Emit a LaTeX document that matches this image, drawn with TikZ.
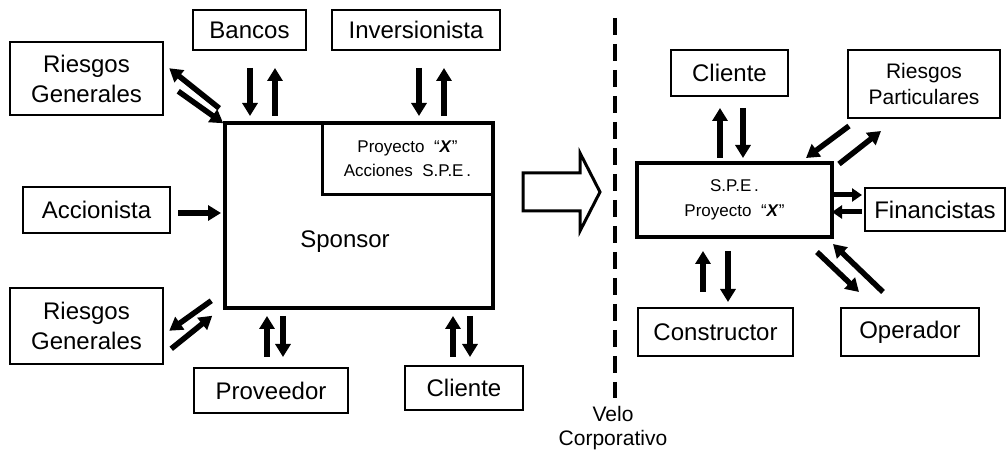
\documentclass[tikz,border=0pt]{standalone}
\usepackage{fontspec}
\setmainfont{Liberation Sans}
\usetikzlibrary{arrows.meta,calc}
\begin{document}
\begin{tikzpicture}[x=1pt,y=-1pt,
  box/.style={draw,line width=2pt,inner sep=0pt,align=center,font=\fontsize{24}{30}\selectfont},
  smalltxt/.style={font=\fontsize{17}{24}\selectfont,align=center,inner sep=0pt},
  arr/.style={line width=5.5pt,-{Triangle[width=15pt,length=13pt]}},
  sarr/.style={line width=5pt,-{Triangle[width=13pt,length=10pt]}},
  ]
\useasboundingbox (0,0) rectangle (1007,454);
% left side
\node[box,minimum width=113pt,minimum height=40pt] (bancos) at (249.5,30) {Bancos};
\node[box,minimum width=168pt,minimum height=40pt] (inv) at (416,30) {Inversionista};
\node[box,line width=2.5pt,minimum width=153pt,minimum height=73pt] (rg1) at (86.5,78.5) {Riesgos\\Generales};
\node[box,minimum width=147pt,minimum height=46pt] (acc) at (96.5,210) {Accionista};
\node[draw,line width=4.5pt,minimum width=268pt,minimum height=185pt,inner sep=0pt] (sponsor) at (359,215.5) {};
\node[draw,line width=3pt,minimum width=171pt,minimum height=72pt,smalltxt] (inner) at (407.5,159)
  {Proyecto\ \ “\textbf{\textit{X}}”\\Acciones\ \ S.P.E\,.};
\node[font=\fontsize{24}{30}\selectfont,inner sep=0pt] (sptxt) at (345,242) {Sponsor};
\node[box,line width=2.5pt,minimum width=153pt,minimum height=76pt] (rg2) at (86.5,326) {Riesgos\\Generales};
\node[box,minimum width=154pt,minimum height=45pt] (prov) at (271,390.5) {Proveedor};
\node[box,minimum width=118pt,minimum height=44pt] (clil) at (464,388) {Cliente};
% arrows left
\draw[arr] ($(bancos.south)+(0.5,17)$) -- ($(bancos.south)+(0.5,65)$);
\draw[arr] ($(bancos.south)+(25.5,65)$) -- ($(bancos.south)+(25.5,17)$);
\draw[arr] ($(inv.south)+(3,17)$) -- ($(inv.south)+(3,65)$);
\draw[arr] ($(inv.south)+(28,65)$) -- ($(inv.south)+(28,17)$);
\draw[arr] ($(rg1.south east)+(55,-8)$) -- ($(rg1.south east)+(5,-48)$);
\draw[arr] ($(rg1.south east)+(14,-25)$) -- ($(rg1.south east)+(59,7)$);
\draw[arr] ($(acc.east)+(7,3)$) -- ($(acc.east)+(50,3)$);
\draw[arr] ($(rg2.north east)+(47,14)$) -- ($(rg2.north east)+(5,44)$);
\draw[arr] ($(rg2.north east)+(7,62)$) -- ($(rg2.north east)+(48,29)$);
\draw[arr] ($(prov.north)+(-4,-10)$) -- ($(prov.north)+(-4,-51)$);
\draw[arr] ($(prov.north)+(12,-51)$) -- ($(prov.north)+(12,-10)$);
\draw[arr] ($(clil.north)+(-11,-8)$) -- ($(clil.north)+(-11,-49)$);
\draw[arr] ($(clil.north)+(6,-49)$) -- ($(clil.north)+(6,-8)$);
% hollow arrow
\draw[line width=3pt,line join=miter] (523,173) -- (580,173) -- (580,153) -- (600,192) -- (580,231) -- (580,211) -- (523,211) -- cycle;
% veil
\coordinate (vtop) at (615,18);
\coordinate (vbot) at (615,398);
\draw[line width=4pt,dash pattern=on 17pt off 9pt] (vtop) -- (vbot);
\node[font=\fontsize{21}{24}\selectfont,align=center,inner sep=0pt] (velo) at (613,428) {Velo\\Corporativo};
% right side
\node[box,minimum width=117pt,minimum height=46pt] (clir) at (729.5,73) {Cliente};
\node[box,font=\fontsize{21}{26}\selectfont,minimum width=152pt,minimum height=68pt] (rp) at (924,84) {Riesgos\\Particulares};
\node[draw,line width=3.5pt,minimum width=195pt,minimum height=74pt,smalltxt,font=\fontsize{17}{25}\selectfont] (spe) at (734.5,200)
  {S.P.E\,.\\Proyecto\ \ “\textbf{\textit{X}}”};
\node[box,minimum width=140pt,minimum height=43pt] (fin) at (935,209.5) {Financistas};
\node[box,minimum width=155pt,minimum height=48pt] (cons) at (715.5,332) {Constructor};
\node[box,minimum width=138pt,minimum height=48pt] (oper) at (910,332) {Operador};
% arrows right
\draw[arr] ($(clir.south)+(-9.5,61)$) -- ($(clir.south)+(-9.5,11)$);
\draw[arr] ($(clir.south)+(13.5,11)$) -- ($(clir.south)+(13.5,61)$);
\draw[arr] ($(rp.south west)+(2,7)$) -- ($(rp.south west)+(-41,39)$);
\draw[arr] ($(rp.south west)+(-8,45)$) -- ($(rp.south west)+(34,12)$);
\draw[sarr] ($(fin.west)+(-32,-14.5)$) -- ($(fin.west)+(-2,-14.5)$);
\draw[sarr] ($(fin.west)+(-2,2.5)$) -- ($(fin.west)+(-32,2.5)$);
\draw[arr] ($(cons.north)+(-12.5,-15)$) -- ($(cons.north)+(-12.5,-56)$);
\draw[arr] ($(cons.north)+(12.5,-56)$) -- ($(cons.north)+(12.5,-5)$);
\draw[arr] ($(oper.north)+(-93,-55)$) -- ($(oper.north)+(-51,-15)$);
\draw[arr] ($(oper.north)+(-27,-15)$) -- ($(oper.north)+(-77,-63)$);
\end{tikzpicture}
\end{document}
